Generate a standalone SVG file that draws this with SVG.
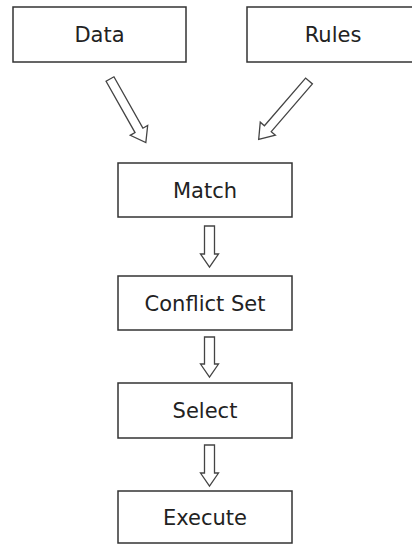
<svg xmlns="http://www.w3.org/2000/svg" width="412" height="544" viewBox="0 0 412 544">
<style>
.box{fill:#fff;stroke:#333;stroke-width:1.5}
.lbl{font-family:"DejaVu Sans","Liberation Sans",sans-serif;font-size:21px;fill:#222;text-anchor:middle}
.arr{fill:#fff;stroke:#444;stroke-width:1.3;stroke-linejoin:miter}
</style>
<rect width="412" height="544" fill="#fff"/>
<g id="connectors">
<polygon class="arr" transform="translate(110,79) rotate(60.6)" points="0,-4.5 59,-4.5 59,-10 73,0 59,10 59,4.5 0,4.5"/>
<polygon class="arr" transform="translate(309,81) rotate(130.8)" points="0,-4.5 63,-4.5 63,-10 77,0 63,10 63,4.5 0,4.5"/>
<polygon class="arr" points="204.5,226 214.5,226 214.5,254 218.5,254 209.5,267 200.5,254 204.5,254"/>
<polygon class="arr" points="204.5,337 214.5,337 214.5,364 218.5,364 209.5,377 200.5,364 204.5,364"/>
<polygon class="arr" points="204.5,445 214.5,445 214.5,473 218.5,473 209.5,486 200.5,473 204.5,473"/>
</g>
<g id="data"><rect class="box" x="13" y="7" width="173" height="55"/><text class="lbl" x="99.5" y="42">Data</text></g>
<g id="rules"><rect class="box" x="247" y="7" width="174" height="55"/><text class="lbl" x="333" y="42">Rules</text></g>
<g id="match"><rect class="box" x="118" y="163" width="174" height="54"/><text class="lbl" x="205" y="197.5">Match</text></g>
<g id="conflict"><rect class="box" x="118" y="276" width="174" height="54"/><text class="lbl" x="205" y="310.5">Conflict Set</text></g>
<g id="select"><rect class="box" x="118" y="383" width="174" height="55"/><text class="lbl" x="205" y="418">Select</text></g>
<g id="execute"><rect class="box" x="118" y="491" width="174" height="52"/><text class="lbl" x="205" y="524.5">Execute</text></g>
</svg>
